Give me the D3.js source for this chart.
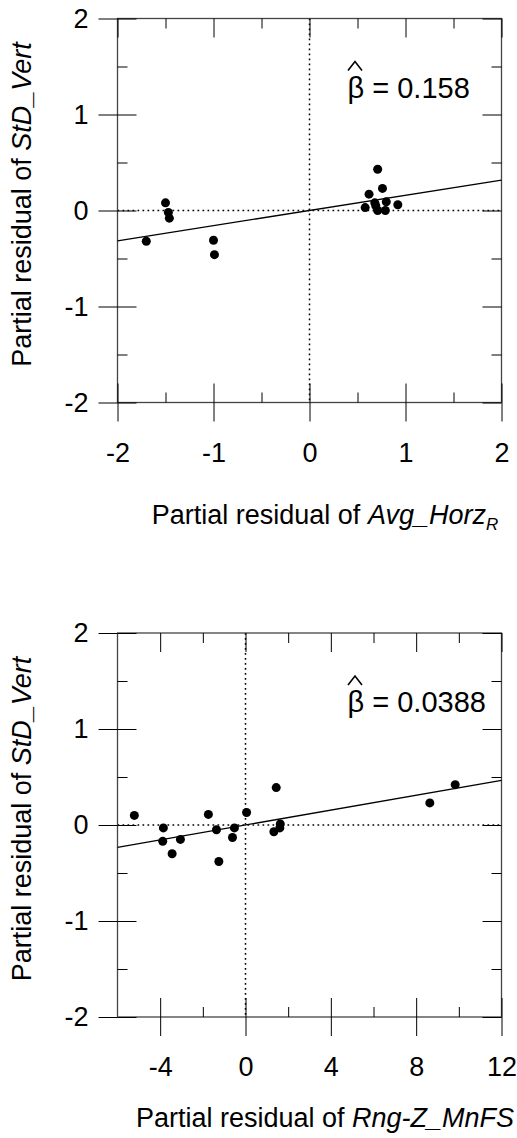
<!DOCTYPE html>
<html>
<head>
<meta charset="utf-8">
<script src="https://cdn.jsdelivr.net/npm/d3@7"></script>
<style>
  body { margin: 0; background: #fff; }
  svg text { font-family: "Liberation Sans", Arial, sans-serif; fill: #000; }
</style>
</head>
<body>
<svg id="chart" width="517" height="1138"></svg>
<script>
// top panel: partial residuals vs Avg_Horz_R
const topResidX = [-1.70, -1.50, -1.47, -1.46, -1.00, -0.99, 0.71, 0.62, 0.76, 0.58, 0.68, 0.69, 0.71, 0.80, 0.79, 0.92];
const topResidY = [-0.32, 0.08, -0.02, -0.08, -0.31, -0.46, 0.43, 0.17, 0.23, 0.03, 0.08, 0.05, 0.00, 0.09, 0.00, 0.06];
const topSlope = 0.158;
const topXMajor = [-2, -1, 0, 1, 2];
const topXMinor = [-1.5, -0.5, 0.5, 1.5];

// bottom panel: partial residuals vs Rng-Z_MnFS
const botResidX = [-5.21, -3.85, -3.88, -3.44, -3.05, -1.74, -1.36, -1.25, -0.52, -0.61, 0.05, 1.44, 1.33, 1.63, 1.61, 8.64, 9.83];
const botResidY = [0.10, -0.03, -0.17, -0.30, -0.15, 0.11, -0.05, -0.38, -0.03, -0.13, 0.13, 0.39, -0.07, 0.01, -0.03, 0.23, 0.42];
const botSlope = 0.0388;
const botXMajor = [-4, 0, 4, 8, 12];
const botXMinor = [-2, 2, 6, 10];

const yMajor = [-2, -1, 0, 1, 2];
const yMinor = [-1.5, -0.5, 0.5, 1.5];

const svg = d3.select("#chart");
const plainNum = d => String(d);   // keep ASCII hyphen for negatives

function styleAxis(sel, fontSize) {
	sel.select(".domain").remove();
	sel.attr("font-family", null).attr("font-size", fontSize);
	sel.selectAll(".tick line").attr("stroke", "#000").attr("stroke-width", 1);
	sel.selectAll(".tick text").attr("fill", "#000");
}

function drawPanel(cfg) {
	let left = 117.5, right = 501.5;
	let top = cfg.top, bottom = cfg.top + 384;
	let x = d3.scaleLinear().domain(cfg.xDomain).range([left, right]);
	let y = d3.scaleLinear().domain([-2, 2]).range([bottom, top]);
	let g = svg.append("g");

	// reference lines at zero
	g.append("line")
		.attr("x1", left).attr("x2", right)
		.attr("y1", y(0)).attr("y2", y(0))
		.attr("stroke", "#000").attr("stroke-width", 1.5)
		.attr("stroke-dasharray", "1.7,3.3");
	g.append("line")
		.attr("x1", x(0)).attr("x2", x(0))
		.attr("y1", top).attr("y2", bottom)
		.attr("stroke", "#000").attr("stroke-width", 1.5)
		.attr("stroke-dasharray", "1.7,3.3");

	// frame
	g.append("rect")
		.attr("x", left).attr("y", top)
		.attr("width", right - left).attr("height", bottom - top)
		.attr("fill", "none").attr("stroke", "#444").attr("stroke-width", 1.3);

	// bottom: labelled ticks outward, then inward major + minor
	g.append("g").attr("transform", `translate(0,${bottom})`)
		.call(d3.axisBottom(x).tickValues(cfg.xMajor).tickSize(19).tickPadding(21).tickFormat(plainNum))
		.call(styleAxis, 27);
	g.append("g").attr("transform", `translate(0,${bottom})`)
		.call(d3.axisBottom(x).tickValues(cfg.xMajor).tickSize(-19).tickFormat(""))
		.call(styleAxis, 27);
	g.append("g").attr("transform", `translate(0,${bottom})`)
		.call(d3.axisBottom(x).tickValues(cfg.xMinor).tickSize(-10).tickFormat(""))
		.call(styleAxis, 27);
	// top: inward only
	g.append("g").attr("transform", `translate(0,${top})`)
		.call(d3.axisTop(x).tickValues(cfg.xMajor).tickSize(-19).tickFormat(""))
		.call(styleAxis, 27);
	g.append("g").attr("transform", `translate(0,${top})`)
		.call(d3.axisTop(x).tickValues(cfg.xMinor).tickSize(-10).tickFormat(""))
		.call(styleAxis, 27);

	// left
	g.append("g").attr("transform", `translate(${left},0)`)
		.call(d3.axisLeft(y).tickValues(yMajor).tickSize(19).tickPadding(10).tickFormat(plainNum))
		.call(styleAxis, 27);
	g.append("g").attr("transform", `translate(${left},0)`)
		.call(d3.axisLeft(y).tickValues(yMajor).tickSize(-19).tickFormat(""))
		.call(styleAxis, 27);
	g.append("g").attr("transform", `translate(${left},0)`)
		.call(d3.axisLeft(y).tickValues(yMinor).tickSize(-10).tickFormat(""))
		.call(styleAxis, 27);
	// right: inward only
	g.append("g").attr("transform", `translate(${right},0)`)
		.call(d3.axisRight(y).tickValues(yMajor).tickSize(-19).tickFormat(""))
		.call(styleAxis, 27);
	g.append("g").attr("transform", `translate(${right},0)`)
		.call(d3.axisRight(y).tickValues(yMinor).tickSize(-10).tickFormat(""))
		.call(styleAxis, 27);

	// fitted line through the origin
	let line = d3.line().x(d => x(d)).y(d => y(cfg.slope * d));
	g.append("path")
		.datum(cfg.xDomain)
		.attr("d", line)
		.attr("fill", "none").attr("stroke", "#000").attr("stroke-width", 1.3);

	// points
	g.selectAll("circle.pt")
		.data(cfg.xs.map((v, i) => [v, cfg.ys[i]]))
		.join("circle").classed("pt", true)
		.attr("cx", d => x(d[0]))
		.attr("cy", d => y(d[1]))
		.attr("r", 4.5)
		.attr("fill", "#000");

	// beta-hat annotation
	let bx = left + 230, by = top + 79;
	g.append("text")
		.attr("x", bx).attr("y", by)
		.attr("font-size", 29)
		.text("\u03B2 = " + cfg.beta);
	g.append("path")
		.attr("d", `M${bx + 0.5},${by - 27} L${bx + 7.5},${by - 36} L${bx + 14.5},${by - 27}`)
		.attr("fill", "none").attr("stroke", "#000").attr("stroke-width", 1.6);

	// y title
	let ty = svg.append("text")
		.attr("transform", `translate(22,${(top + bottom) / 2 - 6}) rotate(-90)`)
		.attr("text-anchor", "middle")
		.attr("dominant-baseline", "central")
		.attr("font-size", 27);
	ty.append("tspan").text("Partial residual of ");
	ty.append("tspan").attr("font-style", "italic").text("StD_Vert");

	// x title
	let tx = svg.append("text")
		.attr("x", 325).attr("y", cfg.titleY)
		.attr("text-anchor", "middle")
		.attr("font-size", 27);
	tx.append("tspan").text("Partial residual of ");
	tx.append("tspan").attr("font-style", "italic").text(cfg.xName);
	if (cfg.xSub) {
		tx.append("tspan").attr("font-style", "italic").attr("font-size", 17)
			.attr("dy", "0.35em").text(cfg.xSub);
	}
}

drawPanel({
	top: 18.5, xDomain: [-2, 2], xMajor: topXMajor, xMinor: topXMinor,
	xs: topResidX, ys: topResidY, slope: topSlope, beta: "0.158",
	xName: "Avg_Horz", xSub: "R", titleY: 524
});
drawPanel({
	top: 633, xDomain: [-6, 12], xMajor: botXMajor, xMinor: botXMinor,
	xs: botResidX, ys: botResidY, slope: botSlope, beta: "0.0388",
	xName: "Rng-Z_MnFS", xSub: null, titleY: 1127
});
</script>
</body>
</html>
